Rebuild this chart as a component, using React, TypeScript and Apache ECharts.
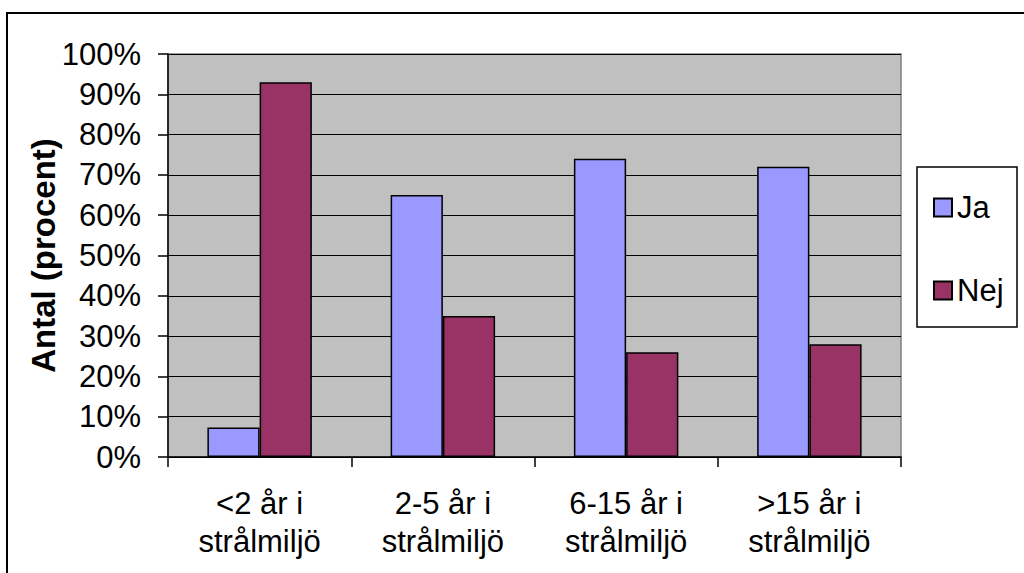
import React, { useEffect, useRef } from "react";
import * as echarts from "echarts";

const categories = ["<2 år i\nstrålmiljö", "2-5 år i\nstrålmiljö", "6-15 år i\nstrålmiljö", ">15 år i\nstrålmiljö"];
const jaValues = [7.3, 65, 74, 72];
const nejValues = [93, 35, 26, 28];
const seriesNames = ["Ja", "Nej"];
const yAxisTitle = "Antal (procent)";

const FONT = "Liberation Sans, Arial, sans-serif";

export default function App() {
  const ref = useRef<HTMLDivElement>(null);
  useEffect(() => {
    if (!ref.current) return;
    const chart = echarts.init(ref.current, null, { renderer: "svg" });
    chart.setOption({
      animation: false,
      backgroundColor: "#ffffff",
      textStyle: { fontFamily: FONT, color: "#000" },
      grid: {
        left: 168,
        top: 54,
        width: 733,
        height: 403,
        show: true,
        backgroundColor: "#C0C0C0",
        borderColor: "#808080",
        borderWidth: 1.5,
      },
      graphic: [
        {
          type: "rect",
          silent: true,
          z: 0,
          shape: { x: 7, y: 13, width: 1100, height: 700 },
          style: { fill: "none", stroke: "#000", lineWidth: 2 },
        },
        {
          type: "rect",
          silent: true,
          z: 0,
          shape: { x: 917, y: 167, width: 100, height: 160 },
          style: { fill: "#fff", stroke: "#000", lineWidth: 1.5 },
        },
      ],
      legend: {
        orient: "vertical",
        left: 933,
        top: 192,
        padding: 0,
        z: 10,
        itemWidth: 18,
        itemHeight: 18,
        itemGap: 52,
        itemTextGap: 10,
        icon: "rect",
        data: seriesNames,
        textStyle: { fontFamily: FONT, fontSize: 31, color: "#000", lineHeight: 30 },
      },
      xAxis: {
        type: "category",
        data: categories,
        axisLine: { lineStyle: { color: "#000", width: 1.5 } },
        axisTick: { show: true, length: 10, lineStyle: { color: "#000", width: 1.5 } },
        axisLabel: { fontFamily: FONT, fontSize: 31, color: "#000", lineHeight: 38, margin: 27, interval: 0 },
      },
      yAxis: {
        type: "value",
        min: 0,
        max: 100,
        interval: 10,
        name: yAxisTitle,
        nameLocation: "middle",
        nameGap: 108,
        nameMoveOverlap: false,
        nameTextStyle: { fontFamily: FONT, fontSize: 33, fontWeight: "bold", color: "#000" },
        axisLine: { show: true, lineStyle: { color: "#000", width: 1.5 } },
        axisTick: { show: true, length: 10, lineStyle: { color: "#000", width: 1.5 } },
        axisLabel: { fontFamily: FONT, fontSize: 31, color: "#000", margin: 27, formatter: "{value}%" },
        splitLine: { show: true, lineStyle: { color: "#000", width: 1.2 } },
      },
      series: [
        {
          name: seriesNames[0],
          type: "bar",
          data: jaValues,
          barGap: "0%",
          barCategoryGap: "43%",
          itemStyle: { color: "#9999FF", borderColor: "#000", borderWidth: 1.5 },
        },
        {
          name: seriesNames[1],
          type: "bar",
          data: nejValues,
          barGap: "0%",
          barCategoryGap: "43%",
          itemStyle: { color: "#993366", borderColor: "#000", borderWidth: 1.5 },
        },
      ],
    });
    return () => chart.dispose();
  }, []);
  return <div ref={ref} style={{ position: "fixed", left: 0, top: 0, width: 1024, height: 573 }} />;
}
